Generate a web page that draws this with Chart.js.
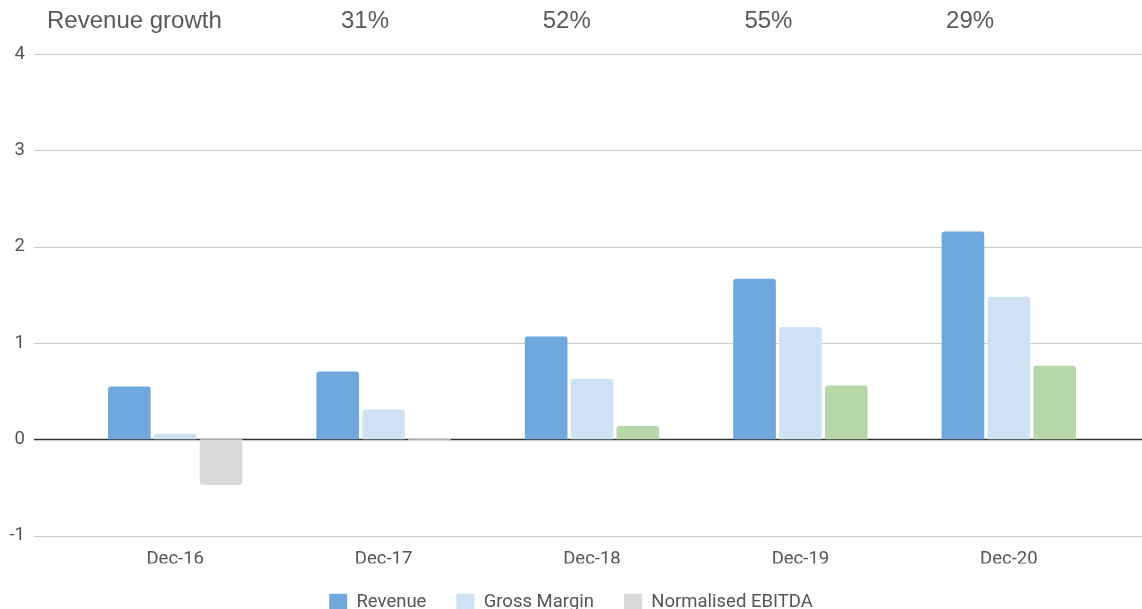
<!DOCTYPE html>
<html>
<head>
<meta charset="utf-8">
<title>Revenue growth</title>
<script src="https://cdn.jsdelivr.net/npm/chart.js@4/dist/chart.umd.min.js"></script>
<style>
  html, body { margin: 0; padding: 0; background: #fff; overflow: hidden; }
  .chart-box { position: relative; width: 1142px; height: 622px; }
</style>
</head>
<body>
<div class="chart-box"><canvas id="growthChart"></canvas></div>
<script>
/* data */
const periods = ["Dec-16", "Dec-17", "Dec-18", "Dec-19", "Dec-20"];
const revenue = [0.548, 0.703, 1.066, 1.665, 2.156];
const grossMargin = [0.057, 0.309, 0.628, 1.164, 1.478];
const ebitda = [-0.475, -0.015, 0.137, 0.558, 0.762];
const growthLabels = ["31%", "52%", "55%", "29%"];
const yTicks = [-1, 0, 1, 2, 3, 4];

const BLUE = "#6fa8dc";
const LIGHT_BLUE = "#cfe2f3";
const GREEN = "#b6d7a8";
const GREY = "#d9d9d9";
const TEXT = "#555555";

Chart.defaults.font.family = "Roboto, 'Noto Sans', sans-serif";
Chart.defaults.font.size = 18.5;
Chart.defaults.color = TEXT;

// horizontal rules run past the plot, from the tick labels to the right edge
const fullGrid = {
  id: "fullGrid",
  beforeDatasetsDraw(chart) {
    const { ctx } = chart;
    const y = chart.scales.y;
    ctx.save();
    y.ticks.forEach((t) => {
      const py = Math.round(y.getPixelForValue(t.value)) + 0.5;
      ctx.beginPath();
      ctx.moveTo(y.left + 34, py);
      ctx.lineTo(chart.width, py);
      ctx.lineWidth = t.value === 0 ? 1.5 : 1;
      ctx.strokeStyle = t.value === 0 ? "#333333" : "#cccccc";
      ctx.stroke();
    });
    ctx.restore();
  },
};

// header row: "Revenue growth" followed by year-on-year figures
const growthRow = {
  id: "growthRow",
  afterDraw(chart) {
    const { ctx } = chart;
    ctx.save();
    ctx.font = "24px 'Liberation Sans', Arial, sans-serif";
    ctx.fillStyle = "#595959";
    ctx.textBaseline = "middle";
    ctx.textAlign = "left";
    ctx.fillText("Revenue growth", 47, 21);
    ctx.textAlign = "center";
    growthLabels.forEach((txt, i) => {
      ctx.fillText(txt, 365 + i * 201.7, 21);
    });
    ctx.restore();
  },
};

new Chart(document.getElementById("growthChart"), {
  type: "bar",
  data: {
    labels: periods,
    datasets: [
      {
        label: "Revenue",
        data: revenue,
        backgroundColor: BLUE,
      },
      {
        label: "Gross Margin",
        data: grossMargin,
        backgroundColor: LIGHT_BLUE,
      },
      {
        label: "Normalised EBITDA",
        data: ebitda,
        // losses in grey, profits in green
        backgroundColor: (c) => (c.type === "data" && c.raw >= 0 ? GREEN : GREY),
      },
    ],
  },
  options: {
    responsive: true,
    maintainAspectRatio: false,
    animation: false,
    layout: { padding: { top: 54, left: 0, right: 0, bottom: 0 } },
    datasets: {
      bar: {
        categoryPercentage: 0.66,
        barPercentage: 0.93,
        borderRadius: 3,
        borderSkipped: "start",
      },
    },
    scales: {
      x: {
        grid: { display: false, drawTicks: false },
        border: { display: false },
        ticks: { padding: 13, color: TEXT },
        afterFit(scale) { scale.height = 28; },
      },
      y: {
        min: -1,
        max: 4,
        grid: { display: false, drawTicks: false },
        border: { display: false },
        afterBuildTicks(scale) { scale.ticks = yTicks.map((v) => ({ value: v })); },
        ticks: { padding: 46, color: TEXT },
        afterFit(scale) {
          // the wide label padding should not push the plot down
          scale.width = 71;
          scale.paddingTop = 11;
          scale.paddingBottom = 11;
        },
      },
      yRight: {
        position: "right",
        grid: { display: false, drawTicks: false },
        border: { display: false },
        ticks: { display: false },
        afterFit(scale) { scale.width = 29; },
      },
    },
    plugins: {
      legend: {
        position: "bottom",
        labels: { boxWidth: 18, boxHeight: 18, padding: 30, color: TEXT },
      },
      tooltip: { enabled: false },
    },
  },
  plugins: [fullGrid, growthRow],
});
</script>
</body>
</html>
